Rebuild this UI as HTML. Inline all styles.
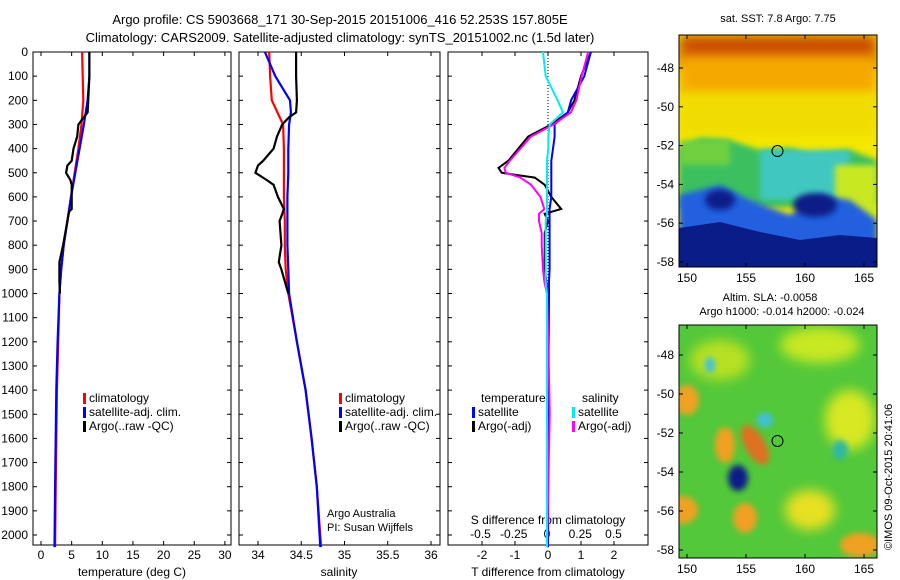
<!DOCTYPE html>
<html><head><meta charset="utf-8"><style>
body{margin:0;background:#fff;}
svg{display:block;font-family:"Liberation Sans",sans-serif;}
</style></head><body>
<svg id="c" width="900" height="580" viewBox="0 0 900 580">
<defs>
<filter id="bl" x="-50%" y="-50%" width="200%" height="200%"><feGaussianBlur stdDeviation="6"/></filter>
<filter id="bl2" x="-50%" y="-50%" width="200%" height="200%"><feGaussianBlur stdDeviation="3"/></filter>
<clipPath id="m1"><rect x="679" y="35" width="198" height="232"/></clipPath>
<clipPath id="m2"><rect x="679" y="325" width="198" height="233"/></clipPath>
</defs>
<text x="340" y="24" text-anchor="middle" font-size="13">Argo profile: CS 5903668_171 30-Sep-2015 20151006_416 52.253S 157.805E</text>
<text x="340" y="42" text-anchor="middle" font-size="13">Climatology: CARS2009. Satellite-adjusted climatology: synTS_20151002.nc (1.5d later)</text>

<g clip-path="url(#m1)">
<rect x="679" y="35" width="198" height="232" fill="#f5e800"/>
<rect x="679" y="35" width="198" height="30" fill="#c84a00" filter="url(#bl)"/>
<rect x="679" y="55" width="198" height="40" fill="#f5a800" filter="url(#bl)"/>
<rect x="679" y="95" width="198" height="40" fill="#f0dc00" filter="url(#bl)"/>
<path d="M679 150 L700 138 L730 140 L760 150 L790 148 L810 155 L850 150 L877 160 L877 205 L679 210 Z" fill="#3bc060" filter="url(#bl2)"/>
<rect x="680" y="140" width="50" height="25" fill="#70d040" filter="url(#bl2)"/>
<rect x="760" y="150" width="90" height="50" fill="#40c8c0" filter="url(#bl2)"/>
<rect x="835" y="165" width="42" height="55" fill="#c8e820" filter="url(#bl2)"/>
<path d="M679 195 L720 185 L750 200 L790 215 L820 195 L850 200 L877 220 L877 267 L679 267 Z" fill="#2060e0" filter="url(#bl2)"/>
<path d="M679 228 L720 222 L760 232 L800 240 L840 235 L877 238 L877 267 L679 267 Z" fill="#0a1c88"/>
<ellipse cx="815" cy="205" rx="22" ry="12" fill="#0a1c88" filter="url(#bl2)"/>
<ellipse cx="720" cy="200" rx="15" ry="10" fill="#0a1c88" filter="url(#bl2)"/>
</g>
<rect x="679" y="35" width="198" height="232" fill="none" stroke="#000"/>
<circle cx="777.5" cy="151" r="5.5" fill="none" stroke="#000"/>
<text x="778" y="22" text-anchor="middle" font-size="11">sat. SST: 7.8 Argo: 7.75</text>

<g clip-path="url(#m2)">
<rect x="679" y="325" width="198" height="233" fill="#52c83a"/>
<ellipse cx="720" cy="360" rx="30" ry="20" fill="#b8e020" filter="url(#bl)"/>
<ellipse cx="820" cy="345" rx="40" ry="18" fill="#c8e820" filter="url(#bl)"/>
<ellipse cx="850" cy="420" rx="25" ry="30" fill="#d8e820" filter="url(#bl)"/>
<ellipse cx="687" cy="400" rx="12" ry="15" fill="#f0a020" filter="url(#bl2)"/>
<ellipse cx="725" cy="445" rx="10" ry="18" fill="#f0a020" filter="url(#bl2)"/>
<ellipse cx="755" cy="445" rx="10" ry="22" transform="rotate(-30 755 445)" fill="#e07020" filter="url(#bl2)"/>
<ellipse cx="682" cy="510" rx="16" ry="14" fill="#f0a020" filter="url(#bl2)"/>
<ellipse cx="745" cy="518" rx="12" ry="15" fill="#f0a020" filter="url(#bl2)"/>
<ellipse cx="860" cy="545" rx="20" ry="12" fill="#f0a020" filter="url(#bl2)"/>
<ellipse cx="810" cy="510" rx="25" ry="20" fill="#e8e020" filter="url(#bl)"/>
<ellipse cx="738" cy="478" rx="10" ry="13" fill="#0a1c88" filter="url(#bl2)"/>
<ellipse cx="765" cy="420" rx="8" ry="7" fill="#40c0e0" filter="url(#bl2)"/>
<ellipse cx="710" cy="365" rx="5" ry="8" fill="#40c0e0" filter="url(#bl2)"/>
<ellipse cx="840" cy="450" rx="8" ry="10" fill="#30b8a0" filter="url(#bl2)"/>
</g>
<rect x="679" y="325" width="198" height="233" fill="none" stroke="#000"/>
<circle cx="777.5" cy="441" r="5.5" fill="none" stroke="#000"/>
<text x="770" y="301" text-anchor="middle" font-size="11">Altim. SLA: -0.0058</text>
<text x="782" y="315" text-anchor="middle" font-size="11">Argo h1000: -0.014 h2000: -0.024</text>
<text transform="translate(892,550) rotate(-90)" font-size="11">©IMOS 09-Oct-2015 20:41:06</text>
<g id="axes"></g>
</svg>
<script>
// ---- data ----
const depthTicks=[0,100,200,300,400,500,600,700,800,900,1000,1100,1200,1300,1400,1500,1600,1700,1800,1900,2000];
const tTicks=[0,5,10,15,20,25,30];
const sTicks=[34,34.5,35,35.5,36];
const tdTicks=[-2,-1,0,1,2];
const sdTicks=[-0.5,-0.25,0,0.25,0.5];
const latTicks=[-48,-50,-52,-54,-56,-58];
const lonTicks=[150,155,160,165];
const climDepth=[0,100,200,300,400,500,600,700,800,900,1000,1200,1400,1600,1800,2050];
const climTemp=[6.7,6.8,6.9,6.6,6.1,5.5,4.9,4.3,3.7,3.3,3.0,2.8,2.6,2.5,2.4,2.3];
const satDepth=[0,100,200,250,300,400,500,600,700,800,900,1000,1200,1400,1600,1800,2050];
const satTemp=[7.9,7.9,7.6,7.3,7.0,6.3,5.6,4.9,4.3,3.7,3.3,3.0,2.7,2.5,2.4,2.3,2.2];
const argoDepth=[0,100,200,250,270,300,350,400,450,470,500,530,550,600,650,660,700,800,870,900,950,1000];
const argoTemp=[7.9,7.9,7.7,7.6,7.0,6.1,5.9,5.3,5.0,4.3,4.1,4.8,5.0,5.0,5.0,4.6,4.3,3.6,3.0,3.0,3.0,3.1];
const climSal=[34.13,34.14,34.16,34.29,34.30,34.30,34.30,34.31,34.31,34.32,34.35,34.45,34.55,34.62,34.68,34.73];
const satSal=[34.08,34.20,34.37,34.38,34.36,34.35,34.35,34.34,34.34,34.34,34.35,34.36,34.45,34.55,34.62,34.68,34.72];
const argoSal=[34.44,34.44,34.45,34.44,34.36,34.28,34.22,34.18,34.06,34.0,33.97,34.10,34.18,34.23,34.30,34.29,34.25,34.27,34.24,34.27,34.31,34.35];
const diffDepth=[0,100,200,250,300,350,400,450,480,500,520,550,600,650,670,700,750,800,900,950,1000,1200,1500,2050];
const tDiffArgo=[1.3,1.0,0.8,0.6,0.1,-0.6,-0.9,-1.2,-1.5,-1.4,-0.4,-0.1,0.1,0.4,-0.1,0.0,-0.1,-0.1,-0.1,-0.05,0.0,0.0,0.0,0.0];
const tDiffSat=[1.3,1.1,0.7,0.6,0.2,0.2,0.15,0.1,0.1,0.1,0.1,0.1,0.1,0.05,0.05,0.05,0.05,0.05,0.05,0.03,0.03,0.02,0.01,0.0];
const sDiffArgo=[0.31,0.26,0.22,0.18,0.05,-0.12,-0.20,-0.28,-0.32,-0.31,-0.20,-0.12,-0.05,-0.02,-0.06,-0.06,-0.04,-0.04,-0.03,-0.02,0.0,0.01,0.02,0.0];
const sDiffSat=[-0.03,-0.01,0.08,0.12,0.02,0.01,0.01,0.0,0.0,0.0,0.0,0.0,0.0,0.0,0.0,-0.01,-0.01,-0.01,-0.01,-0.01,0.0,0.0,0.0,0.0];

// ---- scales ----
const yD=d=>52+0.2415*d;
const xT=v=>41+6.13*v;
const xS=v=>258+86.5*(v-34);
const xTD=v=>548+33*v;
const xSD=v=>547+133*v;
const yLat1=v=>68+(-48-v)*19.4;
const yLat2=v=>355+(-48-v)*19.5;
const xLon=v=>687+(v-150)*11.8;

const NS='http://www.w3.org/2000/svg';
const g=document.getElementById('axes');
function mk(t,a,p){const e=document.createElementNS(NS,t);for(const k in a)e.setAttribute(k,a[k]);(p||g).appendChild(e);return e;}
function txt(x,y,s,anchor,size,name){const e=mk('text',{x:x,y:y,'text-anchor':anchor,'font-size':size});e.textContent=s;

return e;}
const pTop=52,pBot=545;
const panels=[[33,231,'temperature-panel'],[239,440,'salinity-panel'],[448,648,'difference-panel']];
panels.forEach(p=>{const r=mk('rect',{x:p[0],y:pTop,width:p[1]-p[0],height:pBot-pTop,fill:'none',stroke:'#000'});


depthTicks.forEach(d=>{mk('line',{x1:p[0],x2:p[0]+4,y1:yD(d),y2:yD(d),stroke:'#000'});mk('line',{x1:p[1],x2:p[1]-4,y1:yD(d),y2:yD(d),stroke:'#000'});});});
depthTicks.forEach(d=>txt(28,yD(d)+4,String(d),'end',12,'depth-tick-label'));
function xticks(ticks,f,labY){ticks.forEach(v=>{const x=f(v);mk('line',{x1:x,x2:x,y1:pBot,y2:pBot-4,stroke:'#000'});mk('line',{x1:x,x2:x,y1:pTop,y2:pTop+4,stroke:'#000'});txt(x,labY,String(v),'middle',12,'x-tick-label');});}
xticks(tTicks,xT,559);xticks(sTicks,xS,559);xticks(tdTicks,xTD,559);
sdTicks.forEach(v=>txt(xSD(v),538,String(v),'middle',12,'s-diff-tick-label'));
txt(132,576,'temperature (deg C)','middle',12,'x-axis-title-temperature');
txt(339,576,'salinity','middle',12,'x-axis-title-salinity');
txt(548,576,'T difference from climatology','middle',12,'x-axis-title-t-diff');
txt(548,524,'S difference from climatology','middle',12,'x-axis-title-s-diff');
txt(327,517,'Argo Australia','start',11,'argo-australia-label');
txt(327,531,'PI: Susan Wijffels','start',11,'pi-label');
function line(ds,vs,fx,col,w,name){const pts=ds.map((d,i)=>fx(vs[i]).toFixed(1)+','+yD(d).toFixed(1)).join(' ');
const e=mk('polyline',{points:pts,fill:'none',stroke:col,'stroke-width':w});

}
line(climDepth,climTemp,xT,'#f00',2.2,'temp-climatology-line');
line(satDepth,satTemp,xT,'#00f',2.2,'temp-satellite-line');
line(argoDepth,argoTemp,xT,'#000',2.2,'temp-argo-line');
line(climDepth,climSal,xS,'#f00',2.2,'sal-climatology-line');
line(satDepth,satSal,xS,'#00f',2.2,'sal-satellite-line');
line(argoDepth,argoSal,xS,'#000',2.2,'sal-argo-line');
mk('line',{x1:548,x2:548,y1:pTop,y2:pBot,stroke:'#000','stroke-dasharray':'1,2'});
line(diffDepth,tDiffArgo,xTD,'#000',2,'tdiff-argo-line');
line(diffDepth,tDiffSat,xTD,'#00f',2,'tdiff-satellite-line');
line(diffDepth,sDiffArgo,xSD,'#f0f',2,'sdiff-argo-line');
line(diffDepth,sDiffSat,xSD,'#0ee',2,'sdiff-satellite-line');
function leg(x,y,col,s,name){mk('rect',{x:x,y:y-9,width:3,height:11,fill:col});txt(x+6,y,s,'start',12,name);}
[[83,'temp'],[339,'sal']].forEach(p=>{leg(p[0],402,'#f00','climatology','legend-climatology-'+p[1]);leg(p[0],416,'#00f','satellite-adj. clim.','legend-satellite-'+p[1]);leg(p[0],430,'#000','Argo(..raw -QC)','legend-argo-'+p[1]);});
txt(481,402,'temperature','start',12,'legend-header-temperature');
txt(582,402,'salinity','start',12,'legend-header-salinity');
leg(472,416,'#00f','satellite','legend-t-satellite');leg(472,430,'#000','Argo(-adj)','legend-t-argo');
leg(572,416,'#0ee','satellite','legend-s-satellite');leg(572,430,'#f0f','Argo(-adj)','legend-s-argo');
// map axes
[[yLat1,35,267],[yLat2,325,558]].forEach(m=>{latTicks.forEach(v=>{const y=m[0](v);mk('line',{x1:679,x2:683,y1:y,y2:y,stroke:'#000'});mk('line',{x1:877,x2:873,y1:y,y2:y,stroke:'#000'});txt(674,y+4,String(v),'end',12,'lat-tick-label');});
lonTicks.forEach(v=>{const x=xLon(v);mk('line',{x1:x,x2:x,y1:m[2],y2:m[2]-4,stroke:'#000'});mk('line',{x1:x,x2:x,y1:m[1],y2:m[1]+4,stroke:'#000'});txt(x,m[2]+15,String(v),'middle',12,'lon-tick-label');});});
</script>
</body></html>
